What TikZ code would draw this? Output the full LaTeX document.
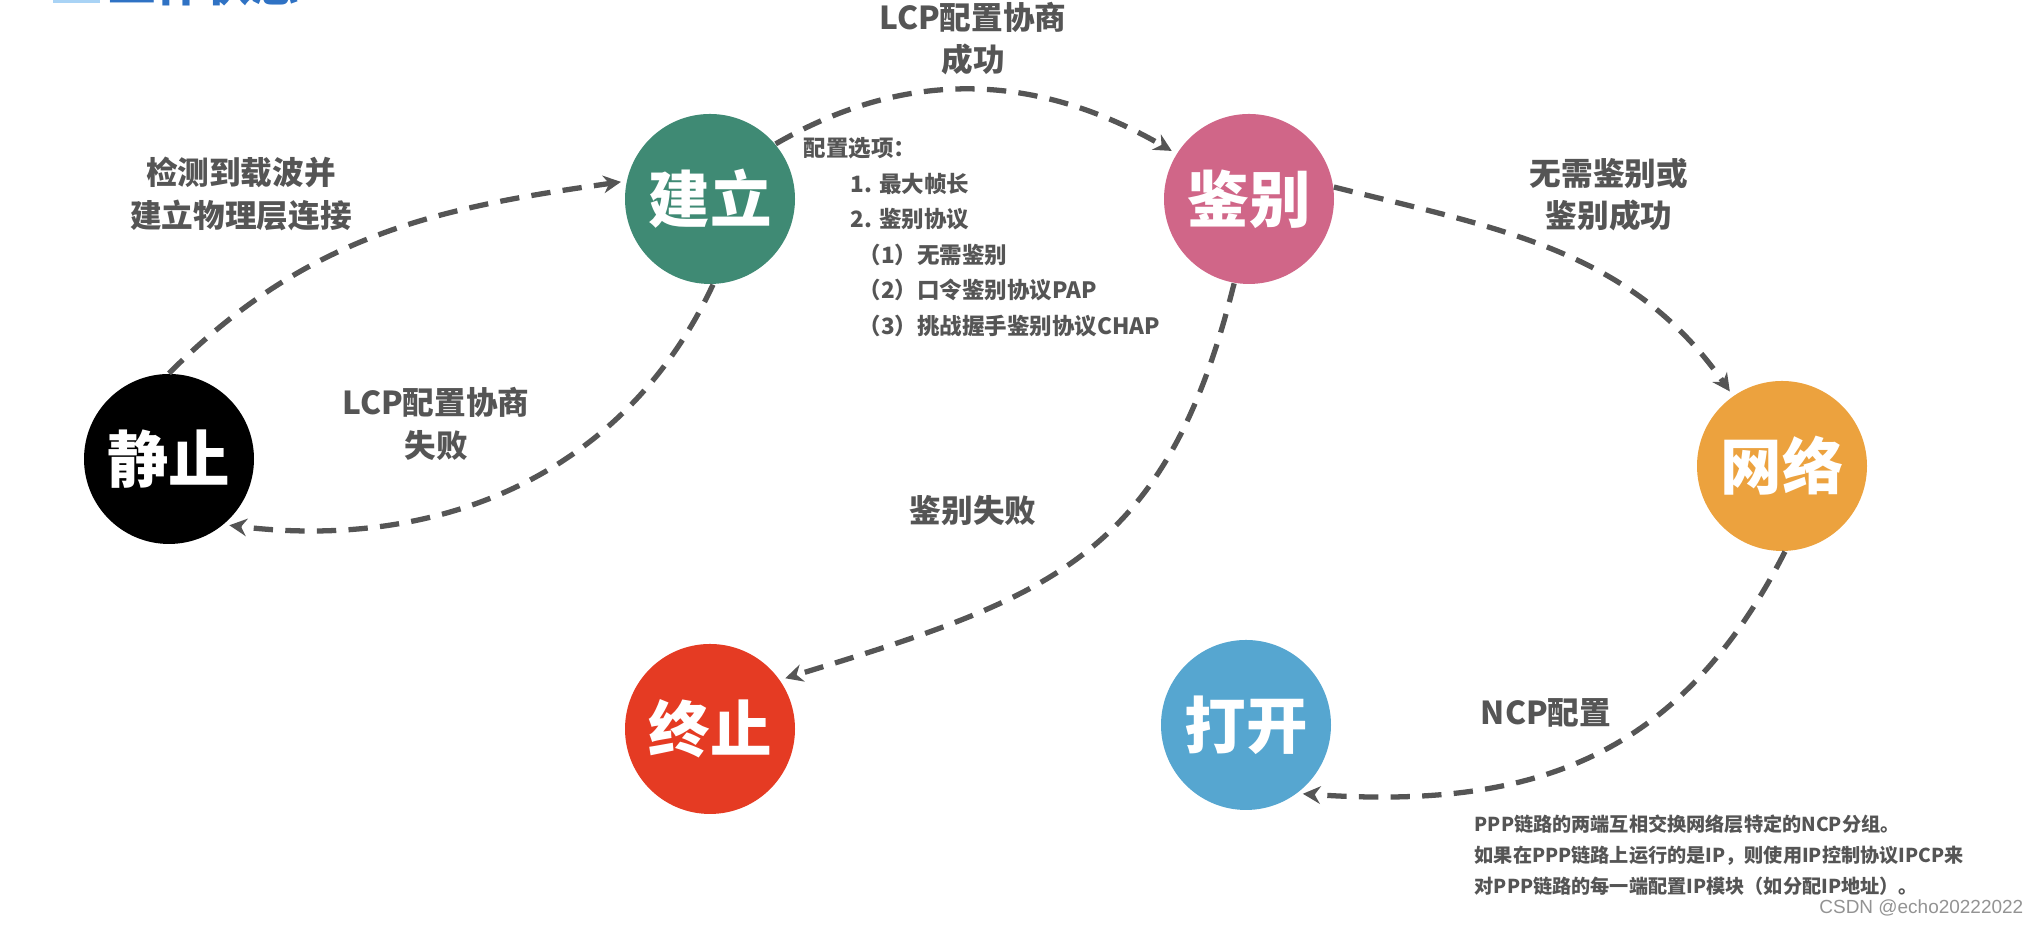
\documentclass[tikz,border=0pt]{standalone}
\usepackage{fontspec}
\usetikzlibrary{arrows.meta}
\setmainfont{Noto Sans CJK SC}
\newfontfamily\wmfont{Liberation Sans}
\definecolor{jlcolor}{HTML}{3F8A74}
\definecolor{jbcolor}{HTML}{D06688}
\definecolor{wlcolor}{HTML}{ECA23E}
\definecolor{zzcolor}{HTML}{E53B23}
\definecolor{dkcolor}{HTML}{56A6D0}
\definecolor{linegray}{HTML}{555555}
\definecolor{titleblue}{HTML}{2F72C4}
\definecolor{titlelight}{HTML}{A9D3F5}
\begin{document}
\begin{tikzpicture}[>={Stealth[length=5pt,width=5pt]},
  state/.style={circle,minimum size=1.70cm,inner sep=0pt,text=white,font=\fontsize{17.5}{20}\selectfont\bfseries},
  trans/.style={->,draw=linegray,line width=1.5pt,dash pattern=on 5.5pt off 3.5pt,shorten >=1.5pt},
  lbl/.style={text=linegray,align=center,font=\fontsize{9}{12}\selectfont\bfseries}]
\useasboundingbox (0,0) rectangle (20.4,9.28);
% 标题(被截掉一半)
\begin{scope}
\clip (0,0) rectangle (20.4,9.28);
\fill[titlelight] (0.53,9.25) rectangle (1.0,9.3);
\node[anchor=base west,inner sep=0pt,text=titleblue,font=\fontsize{13.5}{14}\selectfont\bfseries] (title) at (1.08,9.26) {工作状态};
\end{scope}
% 六个状态
\node[state,fill=black] (jz) at (1.69,4.69) {静止};
\node[state,fill=jlcolor] (jl) at (7.10,7.29) {建立};
\node[state,fill=jbcolor] (jb) at (12.49,7.29) {鉴别};
\node[state,fill=wlcolor] (wl) at (17.82,4.62) {网络};
\node[state,fill=zzcolor] (zz) at (7.10,1.99) {终止};
\node[state,fill=dkcolor] (dk) at (12.46,2.03) {打开};
% 状态之间的转换
\draw[trans] (jz.north) to[out=45,in=188] (jl.168);
\draw[trans] (jl.-88) to[out=-115,in=-7] (jz.-50);
\draw[trans] (jl.40) to[out=30,in=150] (jb.148);
\draw[trans] (jb.8) to[out=-14,in=125] (wl.125);
\draw[trans] (jb.-100) to[out=-104,in=17,looseness=1.2] (zz.35);
\draw[trans] (wl.-88) to[out=-117,in=-4,looseness=1.1] (dk.-53);
% 说明文字
\node[lbl] (l1) at (2.41,7.34) {检测到载波并\\建立物理层连接};
\node[lbl] (l2) at (4.36,5.04) {LCP配置协商\\失败};
\node[lbl] (l3) at (9.73,8.89) {LCP配置协商\\成功};
\node[lbl] (l4) at (16.09,7.33) {无需鉴别或\\鉴别成功};
\node[lbl] (l5) at (9.73,4.17) {鉴别失败};
\node[lbl] (l6) at (15.46,2.15) {NCP配置};
\node[anchor=north west,inner sep=0pt,align=left,text=linegray,font=\fontsize{6.4}{10.1}\selectfont\bfseries] (opt) at (8.03,7.91)
  {配置选项：\\
   \hspace{0.47cm}1. 最大帧长\\
   \hspace{0.47cm}2. 鉴别协议\\
   \hspace{0.55cm}（1）无需鉴别\\
   \hspace{0.55cm}（2）口令鉴别协议PAP\\
   \hspace{0.55cm}（3）挑战握手鉴别协议CHAP};
\node[anchor=north west,inner sep=0pt,align=left,text=linegray,font=\fontsize{5.45}{8.8}\selectfont\bfseries] (note) at (14.74,1.14)
  {PPP链路的两端互相交换网络层特定的NCP分组。\\
   如果在PPP链路上运行的是IP，则使用IP控制协议IPCP来\\
   对PPP链路的每一端配置IP模块（如分配IP地址）。};
\node[anchor=east,inner sep=0pt,text=gray!85,font=\wmfont\fontsize{5.4}{6}\selectfont] (wm) at (20.24,0.2) {CSDN @echo20222022};
\end{tikzpicture}
\end{document}
